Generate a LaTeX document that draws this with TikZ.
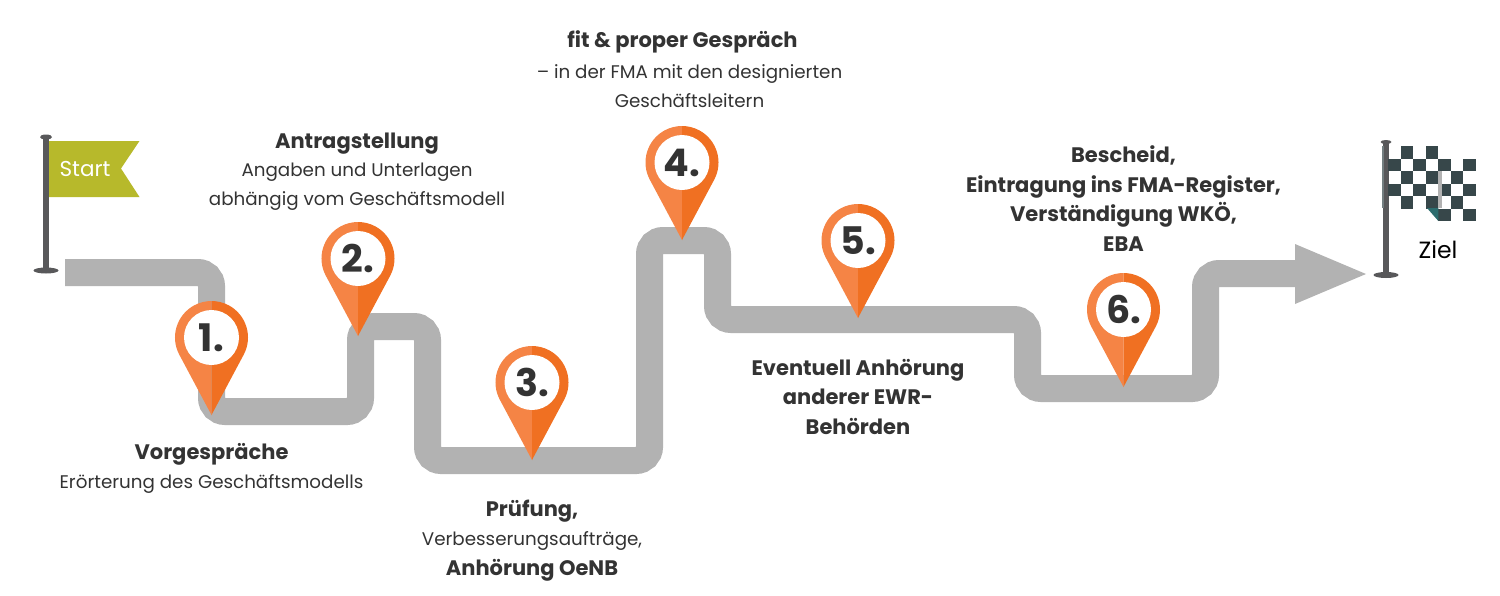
\documentclass[tikz,border=0pt]{standalone}
\usepackage{fontspec}
\setmainfont{Poppins}
\usetikzlibrary{calc}
\definecolor{roadgray}{HTML}{B2B2B2}
\definecolor{polegray}{HTML}{58585A}
\definecolor{flaggreen}{HTML}{B7B92B}
\definecolor{pinlight}{HTML}{F58445}
\definecolor{pindark}{HTML}{F07022}
\definecolor{checkdark}{HTML}{37474A}
\definecolor{textdark}{HTML}{333333}
\tikzset{
    road/.style={draw=roadgray,line width=27pt,rounded corners=13.5pt},
    pole/.style={fill=polegray},
    pinnum/.style={circle,fill=white,minimum size=55pt,inner sep=0pt,text=textdark,font=\fontsize{38}{38}\selectfont\bfseries},
    step text/.style={align=center,text=textdark,inner sep=0pt,font=\fontsize{18.3}{29.5}\selectfont},
    step title/.style={step text,font=\fontsize{21}{29.5}\selectfont\bfseries}
}
% Pin: Name, x, y der Spitze, Nummer
\newcommand{\pin}[4]{
    \fill[pinlight] (#2,#3) -- ($(#2,#3-77.5)+(152:36.5)$) arc (152:270:36.5) -- cycle;
    \fill[pindark] (#2,#3) -- ($(#2,#3-77.5)+(28:36.5)$) arc (28:-90:36.5) -- cycle;
    \node[pinnum] (#1) at (#2,#3-77.5) {#4};
}
\begin{document}
\begin{tikzpicture}[x=1pt,y=-1pt]
    \useasboundingbox (0,0) rectangle (1500,595);

    % Weg
    \draw[road] (65,272.5) -- (211.5,272.5) -- (211.5,411.5) -- (360.5,411.5) -- (360.5,326.5)
        -- (427.5,326.5) -- (427.5,460.5) -- (649.5,460.5) -- (649.5,240.5) -- (717.5,240.5)
        -- (717.5,319.5) -- (1027.5,319.5) -- (1027.5,388.5) -- (1205.5,388.5) -- (1205.5,273.5)
        -- (1300,273.5);
    \fill[roadgray] (1295,244) -- (1366,274) -- (1295,304) -- cycle;

    % Startflagge
    \fill[pole] (43,137) rectangle (49,270);
    \fill[pole] (46,137) ellipse (6 and 2.5);
    \fill[pole] (46,270.5) ellipse (12.5 and 3);
    \fill[flaggreen] (49,141) -- (139.5,141) -- (121,168.5) -- (139.5,197) -- (49,197) -- cycle;
    \node[text=white,inner sep=0pt,font=\fontsize{21.5}{23}\selectfont] (start) at (85,169) {Start};

    % Zielflagge
    \fill[pole] (1383,142) rectangle (1388.5,275);
    \fill[pole] (1386,142) ellipse (5.5 and 2);
    \fill[pole] (1386,275) ellipse (12.5 and 3);
    \fill[checkdark!70!white] (1382,146) rectangle (1384,208);
    \foreach \col/\row in {1/0,3/0,0/1,2/1,4/1,6/1,1/2,3/2,5/2,0/3,2/3,4/3,6/3,1/4,3/4,5/4,4/5,6/5}
        \fill[checkdark] ({1388.3+\col*12.5},{146+\row*12.5}) rectangle ++(12.5,12.5);
    \fill[roadgray] (1438.3,171) rectangle (1441.5,208);
    \fill[checkdark!80!cyan] (1427,208) -- (1438.3,208) -- (1438.3,221) -- cycle;
    \node[text=black,inner sep=0pt,font=\fontsize{23.5}{23.5}\selectfont] (ziel) at (1438,250) {Ziel};

    % Stecknadeln
    \pin{pineins}{211.5}{415}{1.}
    \pin{pinzwei}{358}{336}{2.}
    \pin{pindrei}{532}{460}{3.}
    \pin{pinvier}{682}{240}{4.}
    \pin{pinfuenf}{858}{318}{5.}
    \pin{pinsechs}{1123.5}{387}{6.}

    % Texte
    \node[step title] (vorT) at (211.5,454.5) {Vorgespräche};
    \node[step text] (vor) at (211.5,484) {Erörterung des Geschäftsmodells};
    \node[step title] (antragT) at (357,144) {Antragstellung};
    \node[step text] (antrag) at (357,186.5) {Angaben und Unterlagen\\abhängig vom Geschäftsmodell};
    \node[step title] (pruefT) at (532,511) {Prüfung,};
    \node[step text] (pruef) at (532,541) {Verbesserungsaufträge,};
    \node[step title] (oenb) at (532,570) {Anhörung OeNB};
    \node[step title] (fitT) at (682.5,42) {fit \& proper Gespräch};
    \node[step text] (fit) at (689.5,86) {– in der FMA mit den designierten\\Geschäftsleitern};
    \node[step title] (ewr) at (858,396.5) {Eventuell Anhörung\\anderer EWR-\\Behörden};
    \node[step title] (bescheid) at (1123.5,198.5) {Bescheid,\\Eintragung ins FMA-Register,\\Verständigung WKÖ,\\EBA};
\end{tikzpicture}
\end{document}
